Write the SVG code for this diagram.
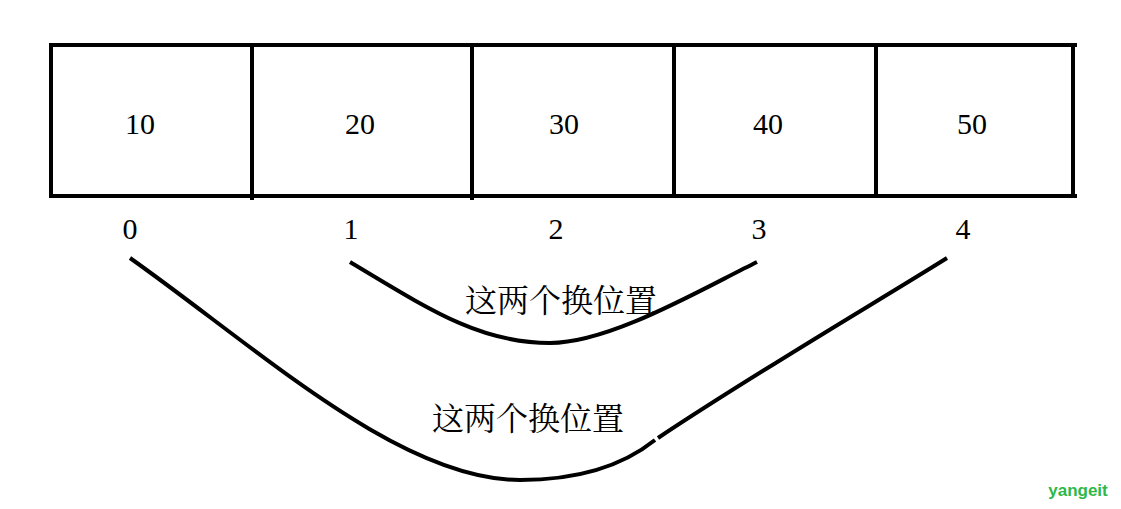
<svg xmlns="http://www.w3.org/2000/svg" width="1121" height="509" viewBox="0 0 1121 509">
<style>
.b{stroke:#000;stroke-width:4;fill:none}
.t{font-family:"Liberation Serif","Noto Sans CJK SC",serif;font-size:30px;fill:#000;text-anchor:middle}
.c{font-family:"Noto Serif CJK SC","Noto Sans CJK SC",serif;font-size:32px;fill:#000;text-anchor:middle}
</style>
<rect width="1121" height="509" fill="#fff"/>
<g id="n0"><path class="b" d="M51 45V196"/><text class="t" x="140" y="134">10</text><text class="t" x="130" y="239">0</text></g>
<g id="n1"><path class="b" d="M252 45V200"/><text class="t" x="360" y="134">20</text><text class="t" x="351" y="239">1</text></g>
<g id="n2"><path class="b" d="M472 45V200"/><text class="t" x="564" y="134">30</text><text class="t" x="556" y="239">2</text></g>
<g id="n3"><path class="b" d="M674 45V196"/><text class="t" x="768" y="134">40</text><text class="t" x="759" y="239">3</text></g>
<g id="n4"><path class="b" d="M876 45V196M1073 45V196"/><text class="t" x="972" y="134">50</text><text class="t" x="963" y="239">4</text></g>
<g id="frame"><path class="b" d="M49 45H1077M49 196H1077"/></g>
<g id="connectors">
<path class="b" d="M350 262C430 310 480 343 550 343C610 343 700 290 757 262" stroke-width="3.5"/>
<path class="b" d="M130 258C260 350 400 480 520 480C590 480 630 460 655 440" stroke-width="3.5"/>
<path class="b" d="M658 438C760 370 880 300 947 258" stroke-width="3.5"/>
</g>
<text class="c" x="561" y="312">这两个换位置</text>
<text class="c" x="528" y="430">这两个换位置</text>
<text x="1078" y="496" font-family="Liberation Sans,sans-serif" font-weight="bold" font-size="17" fill="#2db84a" text-anchor="middle">yangeit</text>
</svg>
